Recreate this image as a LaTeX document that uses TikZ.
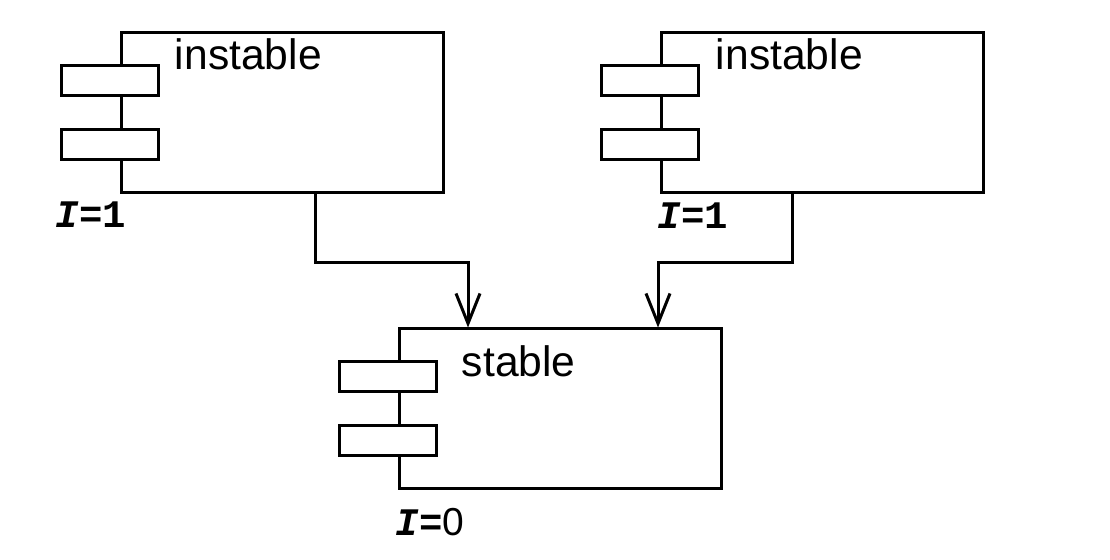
\documentclass[tikz,border=0pt]{standalone}
\usepackage{fontspec}
\setmainfont{Liberation Sans}
\setmonofont{Liberation Mono}
\usetikzlibrary{arrows.meta}

\tikzset{
    comp/.style={draw, line width=1.5pt, minimum width=161pt, minimum height=80pt, inner sep=0pt},
    port/.style={draw, fill=white, line width=1.5pt, minimum width=48.5pt, minimum height=15pt, inner sep=0pt},
    cname/.style={anchor=base west, inner sep=0pt, font=\fontsize{21.3}{24}\selectfont},
    inst/.style={anchor=base west, inner sep=0pt, font=\fontsize{19.5}{22}\selectfont\ttfamily\bfseries},
    dep/.style={line width=1.5pt, -{Straight Barb[length=15pt,width=12pt,line width=1.5pt]}},
}

\begin{document}
\begin{tikzpicture}[x=0.5pt, y=-0.5pt]
        \useasboundingbox (0,0) rectangle (1110,560);
        \node [comp] (c1) at (282,113) {};
        \node [comp] (c2) at (822,113) {};
        \node [comp] (c3) at (560,409) {};
        \foreach \c in {c1,c2,c3} {
            \node [port] (\c p1) at ([shift={(-10,49)}]\c.north west) {};
            \node [port] (\c p2) at ([shift={(-10,113)}]\c.north west) {};
        }
        \node [cname] (n1) at ([shift={(55,38)}]c1.north west) {instable};
        \node [cname] (n2) at ([shift={(56,38)}]c2.north west) {instable};
        \node [cname] (n3) at ([shift={(64,49)}]c3.north west) {stable};
        \node [inst] (i1) at ([shift={(-64,33)}]c1.south west) {\textit{I}=1};
        \node [inst] (i2) at ([shift={(-2,34)}]c2.south west) {\textit{I}=1};
        \node [inst] (i3) at ([shift={(-2,45)}]c3.south west) {\textit{I}={\rmfamily\mdseries 0}};
        \draw [dep] ([shift={(33,0)}]c1.south) -- ++(0,68) -| ([shift={(-92,0)}]c3.north);
        \draw [dep] ([shift={(-30,0)}]c2.south) -- ++(0,68) -| ([shift={(98,0)}]c3.north);
    \end{tikzpicture}
\end{document}
